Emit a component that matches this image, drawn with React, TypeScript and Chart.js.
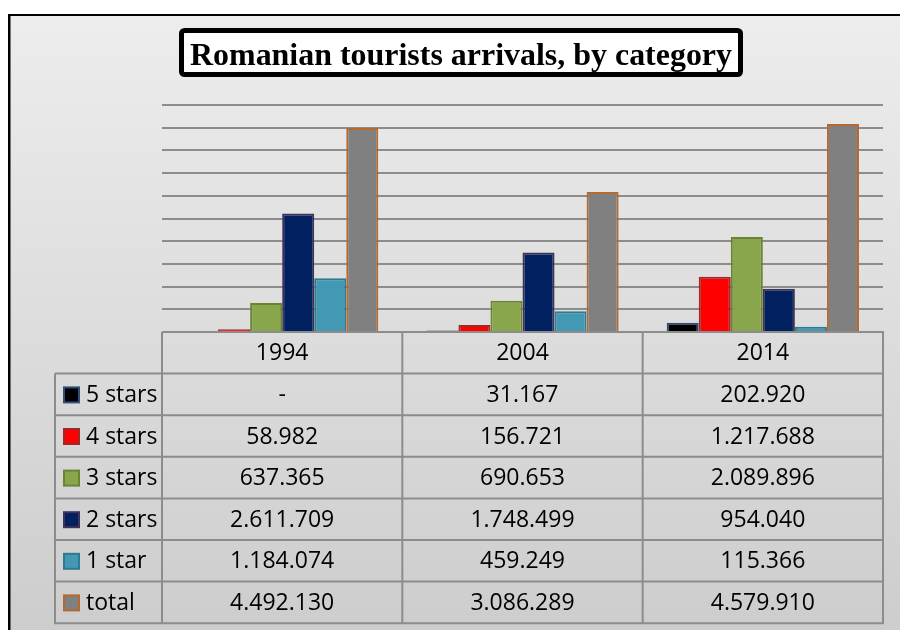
import React, { useEffect, useRef } from "react";
import { Chart, registerables } from "chart.js";

Chart.register(...registerables);

const chartTitle = "Romanian tourists arrivals, by category";
const categories = ["1994", "2004", "2014"];
const seriesNames = ["5 stars", "4 stars", "3 stars", "2 stars", "1 star", "total"];
const stars5: (number | null)[] = [null, 31167, 202920];
const stars4 = [58982, 156721, 1217688];
const stars3 = [637365, 690653, 2089896];
const stars2 = [2611709, 1748499, 954040];
const stars1 = [1184074, 459249, 115366];
const totals = [4492130, 3086289, 4579910];
const yMax = 5000000;
const yStep = 500000;

const fillColors = ["#000000", "#ff0000", "#8aa64d", "#002060", "#4399b3", "#808080"];
const borderColors = ["#2f4f7a", "#9b2b2b", "#6a8434", "#3e3356", "#2e7a8f", "#b5682f"];

const seriesValues = [stars5, stars4, stars3, stars2, stars1, totals];

function fmt(v: number | null): string {
  if (v === null || v === undefined) return "-";
  return String(v).replace(/\B(?=(\d{3})+(?!\d))/g, ".");
}

const GRID = "#8c8c8c";
const TABLE_LEFT = 55;
const ROW_H = 41.6;
const FONT = "'Open Sans', 'DejaVu Sans', sans-serif";

const decorPlugin = {
  id: "decor",
  beforeDraw(chart: any) {
    const ctx = chart.ctx as CanvasRenderingContext2D;
    const W = chart.width;
    const H = chart.height;
    ctx.save();
    ctx.fillStyle = "#ffffff";
    ctx.fillRect(0, 0, W, H);
    const g = ctx.createLinearGradient(0, 16, 0, H);
    g.addColorStop(0, "#ededed");
    g.addColorStop(1, "#cdcdcd");
    ctx.fillStyle = g;
    ctx.fillRect(10, 16, W - 10, H - 16);
    ctx.fillStyle = "#000000";
    ctx.fillRect(8, 14, W - 8, 2);
    ctx.fillRect(8, 14, 2.5, H - 14);
    ctx.restore();
  },
  afterDraw(chart: any) {
    const ctx = chart.ctx as CanvasRenderingContext2D;
    const area = chart.chartArea;
    const xs = chart.scales.x;
    const colW = xs.getPixelForValue(1) - xs.getPixelForValue(0);
    const top = area.bottom;
    const nRows = seriesNames.length + 1;
    const bottom = top + nRows * ROW_H;
    ctx.save();
    // table lines
    ctx.strokeStyle = GRID;
    ctx.lineWidth = 2;
    ctx.beginPath();
    ctx.moveTo(area.left, top);
    ctx.lineTo(area.right + 1, top);
    for (let r = 1; r <= nRows; r++) {
      const y = top + r * ROW_H;
      ctx.moveTo(TABLE_LEFT, y);
      ctx.lineTo(area.right + 1, y);
    }
    ctx.moveTo(TABLE_LEFT, top + ROW_H);
    ctx.lineTo(TABLE_LEFT, bottom + 1);
    ctx.moveTo(area.left, top);
    ctx.lineTo(area.left, bottom + 1);
    for (let i = 0; i < categories.length; i++) {
      const xr = xs.getPixelForValue(i) + colW / 2;
      ctx.moveTo(xr, top);
      ctx.lineTo(xr, bottom + 1);
    }
    ctx.stroke();

    // header texts
    ctx.fillStyle = "#000000";
    ctx.font = `23px ${FONT}`;
    ctx.textAlign = "center";
    ctx.textBaseline = "middle";
    categories.forEach((c, i) => {
      ctx.fillText(c, xs.getPixelForValue(i), top + ROW_H / 2 + 1);
    });
    // rows
    seriesNames.forEach((name, s) => {
      const yc = top + (s + 1) * ROW_H + ROW_H / 2;
      // key
      ctx.fillStyle = fillColors[s];
      ctx.fillRect(64, yc - 7, 15, 15);
      ctx.strokeStyle = borderColors[s];
      ctx.lineWidth = 2;
      ctx.strokeRect(64, yc - 7, 15, 15);
      ctx.fillStyle = "#000000";
      ctx.textAlign = "left";
      ctx.fillText(name, 86, yc + 1);
      ctx.textAlign = "center";
      seriesValues[s].forEach((v, i) => {
        ctx.fillText(fmt(v), xs.getPixelForValue(i), yc + 1);
      });
    });

    // title box
    const bx = 179, by = 28, bw = 564, bh = 49;
    ctx.fillStyle = "#ffffff";
    ctx.strokeStyle = "#000000";
    ctx.lineWidth = 5;
    ctx.beginPath();
    (ctx as any).roundRect
      ? (ctx as any).roundRect(bx + 2.5, by + 2.5, bw - 5, bh - 5, 3)
      : ctx.rect(bx + 2.5, by + 2.5, bw - 5, bh - 5);
    ctx.fill();
    ctx.stroke();
    ctx.font = `bold 32px 'Liberation Serif', 'Times New Roman', serif`;
    ctx.fillStyle = "#000000";
    ctx.textAlign = "center";
    ctx.textBaseline = "alphabetic";
    const tw = ctx.measureText(chartTitle).width;
    const target = 542;
    const sx = Math.min(1, target / tw);
    ctx.translate(bx + bw / 2, 65);
    ctx.scale(sx, 1);
    ctx.fillText(chartTitle, 0, 0);
    ctx.restore();
  },
};

export default function App() {
  const ref = useRef<HTMLCanvasElement | null>(null);
  useEffect(() => {
    if (!ref.current) return;
    const chart = new Chart(ref.current, {
      type: "bar",
      data: {
        labels: categories,
        datasets: seriesNames.map((n, s) => ({
          label: n,
          data: seriesValues[s] as any,
          backgroundColor: fillColors[s],
          borderColor: borderColors[s],
          borderWidth: 2,
          categoryPercentage: 0.8,
          barPercentage: 1.0,
        })),
      },
      options: {
        animation: false,
        responsive: false,
        maintainAspectRatio: false,
        layout: { padding: { left: 162, right: 17, top: 105, bottom: 298 } },
        plugins: {
          legend: { display: false },
          title: { display: false },
          tooltip: { enabled: false },
        },
        scales: {
          x: { display: false },
          y: {
            min: 0,
            max: yMax,
            ticks: { display: false, stepSize: yStep },
            grid: { color: GRID, lineWidth: 2, drawTicks: false },
            border: { display: false },
            afterFit: (scale: any) => {
              scale.width = 0;
            },
          },
        },
      },
      plugins: [decorPlugin],
    });
    return () => chart.destroy();
  }, []);
  return (
    <div style={{ position: "absolute", left: 0, top: 0, width: 900, height: 630 }}>
      <canvas ref={ref} width={900} height={630} style={{ display: "block" }} />
    </div>
  );
}
